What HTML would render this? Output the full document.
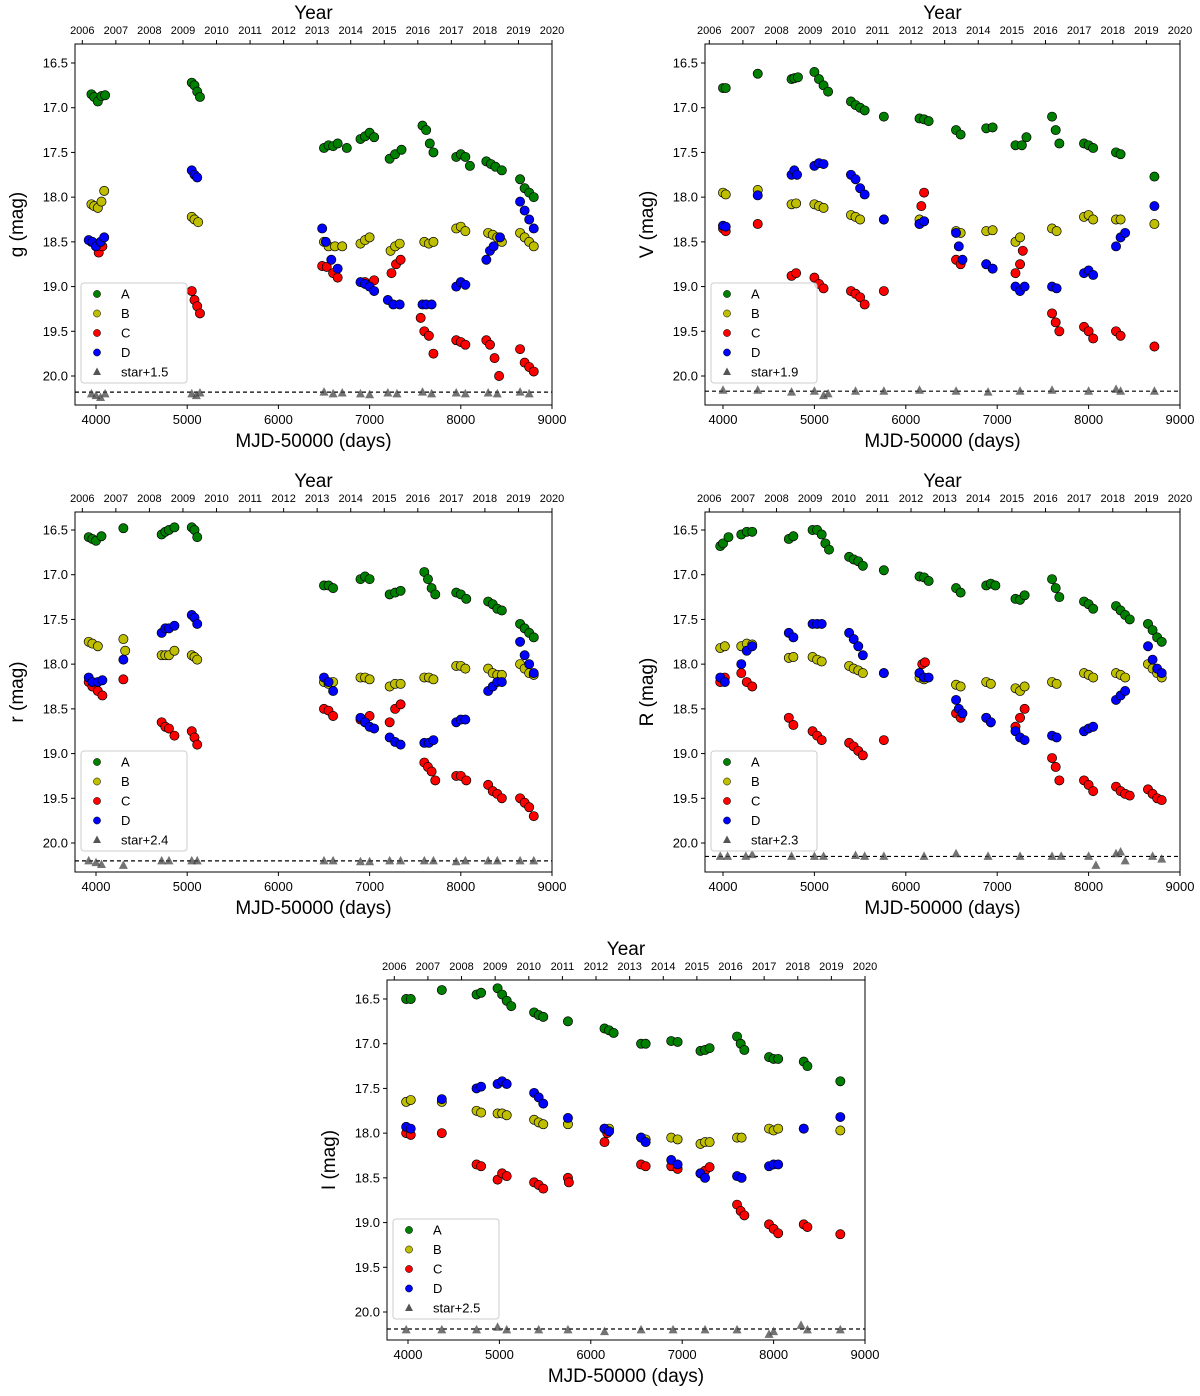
<!DOCTYPE html>
<html><head><meta charset="utf-8"><style>
body{margin:0;background:#fff;}
svg text{font-family:"Liberation Sans","DejaVu Sans",sans-serif;}
</style></head><body>
<svg id="fig" width="1200" height="1391" viewBox="0 0 1200 1391" xmlns="http://www.w3.org/2000/svg"></svg>
<script>
// ---- data (MJD-50000, mag) ----
const gA=[[3950,16.85],[3980,16.88],[4020,16.93],[4060,16.87],[4100,16.86],[5050,16.72],[5080,16.75],[5110,16.82],[5140,16.88],[6500,17.45],[6550,17.42],[6600,17.43],[6650,17.40],[6750,17.45],[6900,17.35],[6950,17.32],[7000,17.28],[7050,17.33],[7220,17.57],[7280,17.52],[7350,17.47],[7580,17.2],[7620,17.25],[7660,17.4],[7700,17.5],[7950,17.55],[8000,17.52],[8050,17.55],[8100,17.65],[8280,17.6],[8330,17.63],[8380,17.66],[8450,17.7],[8650,17.8],[8700,17.9],[8750,17.95],[8800,18.0]];
const gB=[[3950,18.08],[3980,18.1],[4020,18.12],[4060,18.05],[4090,17.93],[5050,18.22],[5080,18.25],[5120,18.28],[6500,18.5],[6550,18.55],[6620,18.55],[6700,18.55],[6900,18.52],[6950,18.48],[7000,18.45],[7230,18.6],[7280,18.55],[7330,18.52],[7600,18.5],[7650,18.52],[7700,18.5],[7950,18.35],[8000,18.33],[8050,18.38],[8300,18.4],[8350,18.42],[8400,18.45],[8450,18.5],[8650,18.4],[8700,18.45],[8750,18.5],[8800,18.55]];
const gC=[[3950,18.5],[4000,18.55],[4030,18.62],[4070,18.55],[5050,19.05],[5080,19.15],[5110,19.22],[5140,19.3],[6480,18.77],[6530,18.78],[6600,18.85],[6650,18.9],[6950,18.95],[7000,18.98],[7050,18.93],[7240,18.85],[7290,18.75],[7340,18.7],[7560,19.35],[7600,19.5],[7650,19.55],[7700,19.75],[7950,19.6],[8000,19.62],[8050,19.65],[8280,19.6],[8320,19.65],[8370,19.8],[8420,20.0],[8650,19.7],[8700,19.85],[8750,19.9],[8800,19.95]];
const gD=[[3920,18.48],[3960,18.5],[4000,18.55],[4050,18.5],[4090,18.45],[5050,17.7],[5080,17.75],[5110,17.78],[6480,18.35],[6520,18.5],[6580,18.7],[6650,18.8],[6900,18.95],[6950,18.97],[7000,19.0],[7050,19.05],[7200,19.15],[7260,19.2],[7330,19.2],[7580,19.2],[7620,19.2],[7680,19.2],[7950,19.0],[8000,18.95],[8050,18.98],[8280,18.7],[8320,18.6],[8360,18.55],[8430,18.45],[8650,18.05],[8700,18.15],[8750,18.25],[8800,18.35]];
const gS=[[3950,20.2],[4000,20.22],[4050,20.24],[4100,20.2],[5050,20.2],[5100,20.22],[5140,20.19],[6500,20.18],[6600,20.2],[6700,20.19],[6900,20.2],[7000,20.21],[7200,20.19],[7300,20.2],[7580,20.18],[7680,20.2],[7950,20.19],[8050,20.2],[8300,20.19],[8400,20.2],[8650,20.18],[8750,20.2]];
const vA=[[4000,16.78],[4030,16.78],[4380,16.62],[4750,16.68],[4780,16.67],[4820,16.66],[5000,16.6],[5050,16.68],[5100,16.75],[5150,16.82],[5400,16.93],[5450,16.97],[5500,17.0],[5550,17.03],[5760,17.1],[6150,17.12],[6200,17.13],[6250,17.15],[6550,17.25],[6600,17.3],[6880,17.23],[6950,17.22],[7200,17.42],[7270,17.42],[7320,17.33],[7600,17.1],[7640,17.25],[7680,17.4],[7950,17.4],[8000,17.42],[8050,17.45],[8300,17.5],[8350,17.52],[8720,17.77]];
const vB=[[4000,17.95],[4030,17.97],[4380,17.92],[4750,18.08],[4800,18.07],[5000,18.08],[5050,18.1],[5100,18.12],[5400,18.2],[5450,18.22],[5500,18.25],[5760,18.25],[6150,18.25],[6200,18.27],[6550,18.38],[6600,18.4],[6880,18.38],[6950,18.37],[7200,18.5],[7250,18.45],[7600,18.35],[7650,18.38],[7950,18.22],[8000,18.2],[8050,18.25],[8300,18.25],[8350,18.25],[8720,18.3]];
const vC=[[4000,18.35],[4030,18.38],[4380,18.3],[4750,18.88],[4800,18.85],[5000,18.9],[5050,18.97],[5100,19.02],[5400,19.05],[5450,19.08],[5500,19.12],[5550,19.2],[5760,19.05],[6150,18.3],[6170,18.1],[6200,17.95],[6550,18.7],[6600,18.75],[6880,18.75],[6950,18.8],[7200,18.85],[7250,18.75],[7280,18.6],[7600,19.3],[7640,19.4],[7680,19.5],[7950,19.45],[8000,19.5],[8050,19.58],[8300,19.5],[8350,19.55],[8720,19.67]];
const vD=[[4000,18.32],[4030,18.33],[4380,17.98],[4750,17.75],[4780,17.7],[4810,17.75],[5000,17.65],[5050,17.62],[5100,17.63],[5400,17.75],[5450,17.8],[5500,17.9],[5550,17.97],[5760,18.25],[6150,18.3],[6200,18.27],[6550,18.4],[6580,18.55],[6620,18.7],[6880,18.75],[6950,18.8],[7200,19.0],[7250,19.05],[7300,19.0],[7600,19.0],[7650,19.02],[7950,18.85],[8000,18.82],[8050,18.87],[8300,18.55],[8350,18.45],[8400,18.4],[8720,18.1]];
const vS=[[4000,20.16],[4380,20.16],[4750,20.18],[5000,20.17],[5100,20.22],[5150,20.2],[5450,20.17],[5760,20.17],[6150,20.16],[6550,20.17],[6900,20.18],[7250,20.17],[7600,20.16],[8000,20.17],[8300,20.15],[8350,20.17],[8720,20.17]];
const rA=[[3920,16.58],[3960,16.6],[4000,16.62],[4060,16.57],[4300,16.48],[4720,16.55],[4760,16.52],[4800,16.5],[4860,16.47],[5050,16.47],[5080,16.5],[5110,16.58],[6500,17.12],[6550,17.12],[6600,17.15],[6900,17.05],[6950,17.02],[7000,17.05],[7220,17.22],[7280,17.2],[7340,17.18],[7600,16.97],[7640,17.05],[7680,17.15],[7720,17.22],[7950,17.2],[8000,17.22],[8060,17.27],[8300,17.3],[8350,17.33],[8400,17.38],[8450,17.4],[8650,17.55],[8700,17.6],[8750,17.65],[8800,17.7]];
const rB=[[3920,17.75],[3960,17.77],[4020,17.8],[4300,17.72],[4320,17.85],[4720,17.9],[4760,17.9],[4800,17.9],[4860,17.85],[5050,17.9],[5080,17.92],[5110,17.95],[6500,18.2],[6550,18.22],[6600,18.2],[6900,18.15],[6950,18.15],[7000,18.17],[7220,18.25],[7280,18.22],[7340,18.22],[7600,18.15],[7650,18.15],[7700,18.17],[7950,18.02],[8000,18.02],[8050,18.05],[8300,18.05],[8350,18.1],[8400,18.12],[8450,18.12],[8650,18.0],[8700,18.05],[8750,18.1],[8800,18.12]];
const rC=[[3920,18.2],[3960,18.25],[4020,18.3],[4070,18.35],[4300,18.17],[4720,18.65],[4760,18.7],[4800,18.72],[4860,18.8],[5050,18.75],[5080,18.82],[5110,18.9],[6500,18.5],[6550,18.52],[6600,18.58],[6900,18.62],[6950,18.65],[7000,18.58],[7220,18.65],[7280,18.5],[7340,18.45],[7600,19.1],[7640,19.15],[7680,19.2],[7720,19.3],[7950,19.25],[8000,19.25],[8060,19.3],[8300,19.35],[8350,19.42],[8400,19.45],[8450,19.5],[8650,19.5],[8700,19.55],[8750,19.6],[8800,19.7]];
const rD=[[3920,18.15],[3960,18.2],[4020,18.2],[4070,18.18],[4300,17.95],[4720,17.65],[4760,17.6],[4800,17.6],[4860,17.57],[5050,17.45],[5080,17.48],[5110,17.55],[6500,18.15],[6550,18.2],[6600,18.3],[6900,18.6],[6950,18.65],[7000,18.7],[7050,18.72],[7220,18.82],[7280,18.87],[7340,18.9],[7600,18.88],[7650,18.88],[7700,18.85],[7950,18.65],[8000,18.62],[8050,18.62],[8300,18.3],[8350,18.25],[8400,18.2],[8450,18.2],[8650,17.75],[8700,17.9],[8750,18.0],[8800,18.1]];
const rS=[[3920,20.2],[4000,20.22],[4060,20.24],[4300,20.25],[4720,20.2],[4800,20.2],[5050,20.2],[5110,20.2],[6500,20.2],[6600,20.2],[6900,20.21],[7000,20.21],[7220,20.2],[7340,20.2],[7600,20.2],[7700,20.2],[7950,20.21],[8050,20.2],[8300,20.2],[8400,20.2],[8650,20.2],[8800,20.2]];
const RA=[[3970,16.68],[4000,16.65],[4060,16.58],[4200,16.55],[4260,16.52],[4320,16.52],[4720,16.6],[4770,16.57],[4980,16.5],[5030,16.5],[5080,16.55],[5120,16.65],[5160,16.72],[5380,16.8],[5430,16.83],[5480,16.85],[5530,16.9],[5760,16.95],[6150,17.02],[6200,17.03],[6250,17.07],[6550,17.15],[6600,17.2],[6880,17.12],[6930,17.1],[6980,17.12],[7200,17.27],[7250,17.28],[7300,17.23],[7600,17.05],[7640,17.15],[7680,17.25],[7950,17.3],[8000,17.33],[8050,17.38],[8300,17.35],[8350,17.4],[8400,17.45],[8450,17.5],[8650,17.55],[8700,17.62],[8750,17.7],[8800,17.75]];
const RB=[[3970,17.82],[4020,17.8],[4200,17.8],[4260,17.77],[4320,17.78],[4720,17.93],[4770,17.92],[4980,17.92],[5030,17.95],[5080,17.97],[5380,18.02],[5430,18.05],[5480,18.07],[5530,18.1],[5760,18.1],[6150,18.15],[6200,18.17],[6550,18.23],[6600,18.25],[6880,18.2],[6930,18.22],[7200,18.27],[7250,18.3],[7300,18.25],[7600,18.2],[7650,18.22],[7950,18.1],[8000,18.12],[8050,18.15],[8300,18.1],[8350,18.12],[8400,18.15],[8650,18.0],[8700,18.05],[8750,18.1],[8800,18.15]];
const RC=[[3970,18.2],[4020,18.15],[4200,18.1],[4260,18.2],[4320,18.25],[4720,18.6],[4770,18.68],[4980,18.75],[5030,18.8],[5080,18.85],[5380,18.88],[5430,18.92],[5480,18.97],[5530,19.02],[5760,18.85],[6150,18.1],[6180,18.0],[6210,17.98],[6550,18.55],[6600,18.6],[6880,18.6],[6930,18.65],[7200,18.7],[7250,18.6],[7300,18.5],[7600,19.05],[7640,19.15],[7680,19.3],[7950,19.3],[8000,19.35],[8050,19.42],[8300,19.37],[8350,19.42],[8400,19.45],[8450,19.47],[8650,19.4],[8700,19.45],[8750,19.5],[8800,19.52]];
const RD=[[3970,18.15],[4020,18.2],[4200,18.0],[4260,17.85],[4320,17.8],[4720,17.65],[4770,17.7],[4980,17.55],[5030,17.55],[5080,17.55],[5380,17.65],[5430,17.72],[5480,17.8],[5530,17.9],[5760,18.1],[6150,18.1],[6200,18.15],[6250,18.15],[6550,18.4],[6580,18.5],[6620,18.55],[6880,18.6],[6930,18.65],[7200,18.75],[7250,18.82],[7300,18.85],[7600,18.8],[7650,18.82],[7950,18.75],[8000,18.72],[8050,18.7],[8300,18.4],[8350,18.35],[8400,18.3],[8650,17.8],[8700,17.95],[8750,18.05],[8800,18.1]];
const RS=[[3970,20.15],[4050,20.15],[4250,20.15],[4320,20.13],[4750,20.15],[5000,20.15],[5100,20.15],[5450,20.14],[5550,20.15],[5760,20.15],[6200,20.15],[6550,20.12],[6900,20.15],[7250,20.15],[7600,20.15],[7700,20.15],[8000,20.15],[8080,20.25],[8300,20.12],[8350,20.1],[8400,20.2],[8700,20.15],[8800,20.18]];
const IA=[[3980,16.5],[4030,16.5],[4370,16.4],[4750,16.45],[4800,16.43],[4980,16.38],[5030,16.45],[5080,16.52],[5130,16.58],[5380,16.65],[5430,16.68],[5480,16.7],[5750,16.75],[6150,16.83],[6200,16.85],[6250,16.88],[6550,17.0],[6600,17.0],[6880,16.97],[6950,16.98],[7200,17.08],[7250,17.07],[7300,17.05],[7600,16.92],[7640,17.0],[7680,17.07],[7950,17.15],[8000,17.17],[8050,17.17],[8330,17.2],[8370,17.25],[8730,17.42]];
const IB=[[3980,17.65],[4030,17.63],[4370,17.65],[4750,17.75],[4800,17.77],[4980,17.78],[5030,17.78],[5080,17.8],[5380,17.85],[5430,17.88],[5480,17.9],[5750,17.9],[6150,17.95],[6200,17.95],[6550,18.05],[6600,18.07],[6880,18.05],[6950,18.07],[7200,18.12],[7250,18.1],[7300,18.1],[7600,18.05],[7650,18.05],[7950,17.95],[8000,17.97],[8050,17.95],[8330,17.95],[8730,17.97]];
const IC=[[3980,18.0],[4030,18.02],[4370,18.0],[4750,18.35],[4800,18.37],[4980,18.52],[5030,18.45],[5080,18.48],[5380,18.55],[5430,18.58],[5480,18.62],[5750,18.5],[5760,18.55],[6150,18.1],[6180,18.0],[6550,18.35],[6600,18.37],[6880,18.37],[6950,18.4],[7200,18.45],[7250,18.42],[7300,18.38],[7600,18.8],[7640,18.87],[7680,18.92],[7950,19.02],[8000,19.07],[8050,19.12],[8330,19.02],[8370,19.05],[8730,19.13]];
const ID=[[3980,17.93],[4030,17.95],[4370,17.62],[4750,17.5],[4800,17.48],[4980,17.45],[5030,17.42],[5080,17.45],[5380,17.55],[5430,17.6],[5480,17.67],[5750,17.83],[6150,17.95],[6200,17.98],[6550,18.05],[6600,18.1],[6880,18.3],[6950,18.35],[7200,18.45],[7250,18.5],[7600,18.48],[7650,18.5],[7950,18.37],[8000,18.35],[8050,18.35],[8330,17.95],[8730,17.82]];
const IS=[[3980,20.2],[4370,20.2],[4750,20.2],[4980,20.17],[5080,20.2],[5430,20.2],[5750,20.2],[6150,20.22],[6550,20.2],[6900,20.2],[7250,20.2],[7600,20.2],[7950,20.25],[8000,20.22],[8300,20.15],[8370,20.2],[8730,20.2]];
const xTicks=[4000,5000,6000,7000,8000,9000];
const yTicks=[16.5,17.0,17.5,18.0,18.5,19.0,19.5,20.0];
const years=[2006,2007,2008,2009,2010,2011,2012,2013,2014,2015,2016,2017,2018,2019,2020];
const starLevels=[20.18,20.17,20.2,20.15,20.19];
const starLabels=['star+1.5','star+1.9','star+2.4','star+2.3','star+2.5'];
const bandNames=['g','V','r','R','I'];

const panels=[
 {L:75,R:552,T:44,B:405,x4:96,x9:552,y1:63,y2:376,d:[gA,gB,gC,gD,gS]},
 {L:705,R:1180,T:44,B:405,x4:723,x9:1180,y1:63,y2:376,d:[vA,vB,vC,vD,vS]},
 {L:75,R:552,T:512,B:872,x4:96,x9:552,y1:530,y2:843,d:[rA,rB,rC,rD,rS]},
 {L:705,R:1180,T:512,B:872,x4:723,x9:1180,y1:530,y2:843,d:[RA,RB,RC,RD,RS]},
 {L:387,R:865,T:980,B:1340,x4:408,x9:865,y1:999,y2:1312,d:[IA,IB,IC,ID,IS]}
];
const cols=['#008000','#bfbf00','#ff0000','#0000ff'];
const names=['A','B','C','D'];
const NS='http://www.w3.org/2000/svg';
const svg=document.getElementById('fig');
function mk(tag,attrs,parent,txt){const e=document.createElementNS(NS,tag);for(const k in attrs)e.setAttribute(k,attrs[k]);if(txt!==undefined)e.textContent=txt;parent.appendChild(e);return e;}

panels.forEach((p,i)=>{
 const b=bandNames[i];
 const xs=m=>p.x4+(m-4000)*(p.x9-p.x4)/5000;
 const ys=v=>p.y1+(v-16.5)*(p.y2-p.y1)/3.5;
 const g=mk('g',{},svg);
 
 
 const clip=mk('clipPath',{id:'c'+i},g);
 mk('rect',{x:p.L,y:p.T,width:p.R-p.L,height:p.B-p.T},clip);
 const dl=mk('line',{x1:p.L,x2:p.R,y1:ys(starLevels[i]),y2:ys(starLevels[i]),stroke:'#000','stroke-dasharray':'4,3','stroke-width':1.2},g);
 
 
 const pg=mk('g',{'clip-path':'url(#c'+i+')'},g);
 p.d[4].forEach(pt=>{
  const x=xs(pt[0]),y=ys(pt[1]);
  const t=mk('polygon',{points:`${x},${y-5} ${x-4.5},${y+3.5} ${x+4.5},${y+3.5}`,fill:'#444','fill-opacity':0.75},pg);
  
  
 });
 for(let s=0;s<4;s++){
  p.d[s].forEach(pt=>{
   const c=mk('circle',{cx:xs(pt[0]),cy:ys(pt[1]),r:4.6,fill:cols[s],stroke:'#000','stroke-width':0.7},pg);
   
   
  });
 }
 mk('rect',{x:p.L,y:p.T,width:p.R-p.L,height:p.B-p.T,fill:'none',stroke:'#000','stroke-width':1},g);
 xTicks.forEach(t=>{const x=xs(t);mk('line',{x1:x,x2:x,y1:p.B,y2:p.B+4,stroke:'#000'},g);
  const l=mk('text',{x:x,y:p.B+19,'font-size':13,'text-anchor':'middle'},g,t);
  
  });
 yTicks.forEach(t=>{const y=ys(t);mk('line',{x1:p.L-4,x2:p.L,y1:y,y2:y,stroke:'#000'},g);
  const l=mk('text',{x:p.L-7,y:y+4.5,'font-size':13,'text-anchor':'end'},g,t.toFixed(1));
  
  });
 // top year axis: 2006 near MJD 3850, 2020 at MJD 9000
 years.forEach(yr=>{const x=xs(3850+(yr-2006)*(9000-3850)/14);
  mk('line',{x1:x,x2:x,y1:p.T-4,y2:p.T,stroke:'#000'},g);
  const l=mk('text',{x:x,y:p.T-10,'font-size':11,'text-anchor':'middle'},g,yr);
  
  });
 const cx=(p.L+p.R)/2;
 const xt=mk('text',{x:cx,y:p.B+42,'font-size':19,'text-anchor':'middle'},g,'MJD-50000 (days)');
 
 
 const yt2=mk('text',{x:cx,y:p.T-25,'font-size':19,'text-anchor':'middle'},g,'Year');
 
 
 const ytx=p.L-52, yty=(p.T+p.B)/2;
 const yt=mk('text',{x:ytx,y:yty,'font-size':19,'text-anchor':'middle',transform:`rotate(-90 ${ytx} ${yty})`},g,b+' (mag)');
 
 
 const lx=p.L+6, ly=p.T+239;
 const lg=mk('g',{},g);
 
 
 mk('rect',{x:lx,y:ly,width:106,height:100,rx:3,fill:'#fff','fill-opacity':0.8,stroke:'#ccc'},lg);
 for(let s=0;s<5;s++){
  const ry=ly+11+s*19.5;
  if(s<4) mk('circle',{cx:lx+16,cy:ry,r:3.6,fill:cols[s],stroke:'#000','stroke-width':0.5},lg);
  else mk('polygon',{points:`${lx+16},${ry-4.5} ${lx+12},${ry+3} ${lx+20},${ry+3}`,fill:'#555'},lg);
  const t=mk('text',{x:lx+40,y:ry+4.5,'font-size':13},lg,s<4?names[s]:starLabels[i]);
  
  
 }
});
</script>
</body></html>
